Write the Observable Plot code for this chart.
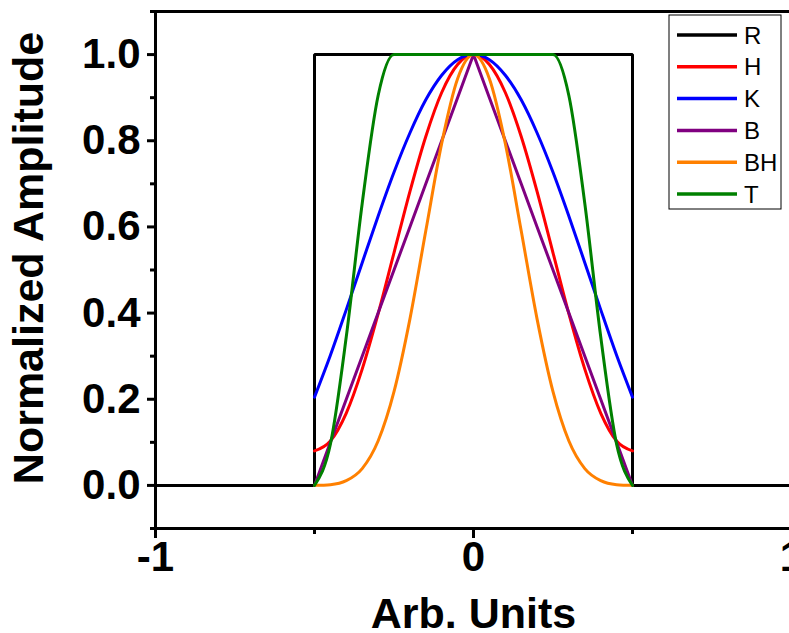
<!DOCTYPE html>
<html>
<head>
<meta charset="utf-8">
<script src="https://cdn.jsdelivr.net/npm/d3@7"></script>
<script src="https://cdn.jsdelivr.net/npm/@observablehq/plot@0.6"></script>
<style>
  html, body { margin: 0; padding: 0; background: #fff; }
  #chart { width: 789px; height: 633px; overflow: hidden; }
</style>
</head>
<body>
<div id="chart"></div>
<script>
// ---- data ----
const seriesNames = ["R", "H", "K", "B", "BH", "T"];
const seriesColors = ["#000000", "#ff0000", "#0000ff", "#800080", "#ff8000", "#008000"];

const rectX = [-1, -0.5, -0.5, 0.5, 0.5, 1];
const rectY = [0, 0, 1, 1, 0, 0];

const xs = [-0.5, -0.45, -0.4, -0.35, -0.3, -0.25, -0.2, -0.15, -0.1, -0.05, 0,
            0.05, 0.1, 0.15, 0.2, 0.25, 0.3, 0.35, 0.4, 0.45, 0.5];
const hValues = [0.08, 0.103, 0.168, 0.270, 0.398, 0.54, 0.682, 0.810, 0.912, 0.977, 1.0,
                 0.977, 0.912, 0.810, 0.682, 0.54, 0.398, 0.270, 0.168, 0.103, 0.08];
const kValues = [0.205, 0.302, 0.408, 0.517, 0.625, 0.727, 0.818, 0.895, 0.952, 0.988, 1.0,
                 0.988, 0.952, 0.895, 0.818, 0.727, 0.625, 0.517, 0.408, 0.302, 0.205];
const bValues = [0, 0.1, 0.2, 0.3, 0.4, 0.5, 0.6, 0.7, 0.8, 0.9, 1.0,
                 0.9, 0.8, 0.7, 0.6, 0.5, 0.4, 0.3, 0.2, 0.1, 0];
const bhValues = [0.0001, 0.0018, 0.011, 0.039, 0.103, 0.2175, 0.386, 0.591, 0.794, 0.944, 1.0,
                  0.944, 0.794, 0.591, 0.386, 0.2175, 0.103, 0.039, 0.011, 0.0018, 0.0001];
const tValues = [0, 0.0955, 0.3455, 0.6545, 0.9045, 1, 1, 1, 1, 1, 1,
                 1, 1, 1, 1, 1, 0.9045, 0.6545, 0.3455, 0.0955, 0];

const xMajorTicks = [-1, 0, 1];
const xMinorTicks = [-0.5, 0.5];
const yMajorTicks = [0, 0.2, 0.4, 0.6, 0.8, 1.0];
const yMinorTicks = [-0.1, 0.1, 0.3, 0.5, 0.7, 0.9, 1.1];
const xLabel = "Arb. Units";
const yLabel = "Normalized Amplitude";

// ---- build tables ----
const rect = rectX.map((x, i) => ({x, y: rectY[i]}));
const mk = vals => xs.map((x, i) => ({x, y: vals[i]}));
const color = n => seriesColors[seriesNames.indexOf(n)];

const font = "'Liberation Sans', Arial, Helvetica, sans-serif";

const plot = Plot.plot({
  width: 789,
  height: 633,
  marginLeft: 155,
  marginRight: -2,
  marginTop: 11,
  marginBottom: 105,
  style: {fontFamily: font, background: "#fff", overflow: "visible"},
  x: {domain: [-1, 1], axis: null},
  y: {domain: [-0.1, 1.1], axis: null},
  marks: [
    // series
    Plot.line(rect, {x: "x", y: "y", stroke: color("R"), strokeWidth: 3, strokeLinejoin: "miter"}),
    Plot.line(mk(hValues), {x: "x", y: "y", stroke: color("H"), strokeWidth: 3, curve: "monotone-x"}),
    Plot.line(mk(kValues), {x: "x", y: "y", stroke: color("K"), strokeWidth: 3, curve: "monotone-x"}),
    Plot.line(mk(bValues), {x: "x", y: "y", stroke: color("B"), strokeWidth: 3}),
    Plot.line(mk(bhValues), {x: "x", y: "y", stroke: color("BH"), strokeWidth: 3, curve: "monotone-x"}),
    Plot.line(mk(tValues), {x: "x", y: "y", stroke: color("T"), strokeWidth: 3, curve: "monotone-x"}),
    // frame lines
    Plot.ruleY([1.1], {stroke: "black", strokeWidth: 3}),
    Plot.ruleY([-0.1], {stroke: "black", strokeWidth: 3}),
    Plot.ruleX([-1], {stroke: "black", strokeWidth: 3}),
    // y axis
    Plot.axisY({ticks: yMajorTicks, tickFormat: d3.format(".1f"), tickSize: 8, tickPadding: 7,
                strokeWidth: 3, fontSize: 42, fontWeight: "bold", fill: "black", label: null}),
    Plot.axisY({ticks: yMinorTicks, tickSize: 5, strokeWidth: 3, text: null, label: null}),
    // x axis
    Plot.axisX({ticks: xMajorTicks, tickFormat: d => String(d), tickSize: 10, tickPadding: 3,
                strokeWidth: 3, fontSize: 42, fontWeight: "bold", fill: "black", label: null}),
    Plot.axisX({ticks: xMinorTicks, tickSize: 6, strokeWidth: 3, text: null, label: null}),
    // axis titles
    Plot.text([xLabel], {frameAnchor: "bottom", lineAnchor: "middle", textAnchor: "middle", dy: 86,
                         fontSize: 43, fontWeight: "bold", fill: "black"}),
    Plot.text([yLabel], {frameAnchor: "left", lineAnchor: "middle", textAnchor: "middle", rotate: -90,
                         dx: -126, dy: -12, fontSize: 43, fontWeight: "bold", fill: "black"})
  ]
});

document.getElementById("chart").appendChild(plot);

// ---- legend ----
const svg = d3.select(plot);
const lg = svg.append("g").attr("transform", "translate(669,15)");
lg.append("rect").attr("x", 0).attr("y", 0).attr("width", 112).attr("height", 194)
  .attr("fill", "white").attr("stroke", "black").attr("stroke-width", 1);
seriesNames.forEach((n, i) => {
  const cy = 20 + i * 31.8;
  lg.append("line").attr("x1", 8).attr("x2", 68).attr("y1", cy).attr("y2", cy)
    .attr("stroke", seriesColors[i]).attr("stroke-width", 3.5);
  lg.append("text").attr("x", 75).attr("y", cy).attr("dy", "0.36em")
    .attr("text-anchor", "start")
    .attr("font-size", 24).attr("font-family", font).attr("fill", "black").text(n);
});
</script>
</body>
</html>
